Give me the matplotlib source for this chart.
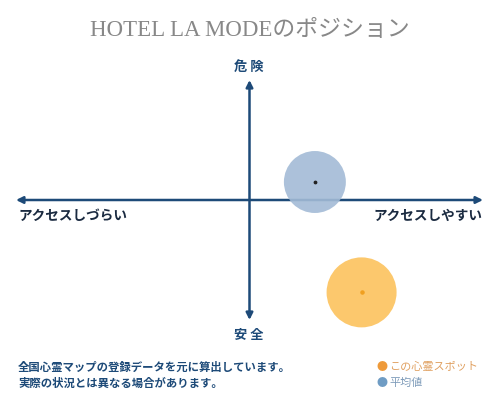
import matplotlib
matplotlib.use("Agg")
import matplotlib.pyplot as plt

plt.rcParams['font.family'] = ['Noto Sans CJK JP', 'DejaVu Sans']

title = "HOTEL LA MODEのポジション"
label_top = "危 険"
label_bottom = "安 全"
label_left = "アクセスしづらい"
label_right = "アクセスしやすい"
notes = ["全国心霊マップの登録データを元に算出しています。",
         "実際の状況とは異なる場合があります。"]
legend_labels = ["この心霊スポット", "平均値"]

# position scores: x = access (-1 hard .. 1 easy), y = danger (-1 safe .. 1 danger)
avg_x, avg_y = 0.28, 0.15
spot_x, spot_y = 0.48, -0.77

navy = "#1d4a78"
blue = "#a3bbd6"
orange = "#fcc565"

fig = plt.figure(figsize=(5, 4), dpi=100)
ax = fig.add_axes([0, 0, 1, 1])
ax.set_xlim(-1.0685, 1.0728)
ax.set_ylim(-1.667, 1.667)
ax.axis('off')

# axes arrows
ax.annotate('', xy=(1, 0), xytext=(-1, 0),
            arrowprops=dict(arrowstyle='<|-|>', color=navy, lw=1.8,
                            mutation_scale=10, shrinkA=0, shrinkB=0))
ax.annotate('', xy=(0, 1), xytext=(0, -1),
            arrowprops=dict(arrowstyle='<|-|>', color=navy, lw=1.8,
                            mutation_scale=10, shrinkA=0, shrinkB=0))

# circles
ax.scatter([avg_x], [avg_y], s=1990, color=blue, alpha=0.9, edgecolors='none', zorder=3)
ax.scatter([avg_x], [avg_y], s=3, color='#222222', zorder=4)
ax.scatter([spot_x], [spot_y], s=2540, color=orange, alpha=0.95, edgecolors='none', zorder=3)
ax.scatter([spot_x], [spot_y], s=5, color='#f0a020', zorder=4)

# texts (figure pixel coords)
def px(x, y):
    return x / 500, 1 - y / 400

fig.text(*px(250, 30), title, ha='center', va='center', fontsize=16.5,
         color='#888888', family=['Liberation Serif', 'Noto Sans CJK JP'])
fig.text(*px(249, 67), label_top, ha='center', va='center', fontsize=9.5,
         color=navy, fontweight='bold')
fig.text(*px(249, 335), label_bottom, ha='center', va='center', fontsize=9.5,
         color=navy, fontweight='bold')
fig.text(*px(18, 216), label_left, ha='left', va='center', fontsize=9.8,
         color='#1a2a40', fontweight='bold')
fig.text(*px(482, 216), label_right, ha='right', va='center', fontsize=9.8,
         color='#1a2a40', fontweight='bold')

fig.text(*px(18, 367), notes[0], ha='left', va='center', fontsize=8.2,
         color=navy, fontweight='bold')
fig.text(*px(18, 383), notes[1], ha='left', va='center', fontsize=8.2,
         color=navy, fontweight='bold')

fig.text(*px(382, 367), "●", ha='center', va='center', fontsize=8, color='#ee9a3a')
fig.text(*px(389, 367), legend_labels[0], ha='left', va='center', fontsize=8,
         color='#e0a060')
fig.text(*px(382, 383), "●", ha='center', va='center', fontsize=8, color='#6f9cc4')
fig.text(*px(389, 383), legend_labels[1], ha='left', va='center', fontsize=8,
         color='#7f9cba')

fig.savefig("out.png", dpi=100)
